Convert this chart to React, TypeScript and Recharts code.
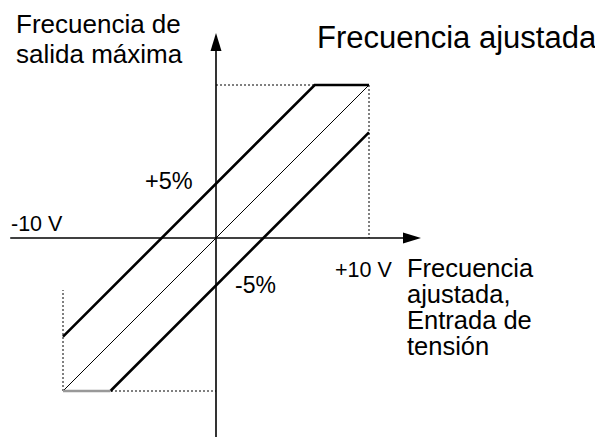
import React from "react";
import { ComposedChart, Line, XAxis, YAxis, ReferenceLine } from "recharts";

// Data (volts / percent of max frequency scaled to ±10)
const centerLine = [
  { x: -10, y: -10 },
  { x: 10, y: 10 },
];
const upperLine = [
  { x: -10, y: -6.45 },
  { x: 6.45, y: 10 },
  { x: 10, y: 10 },
];
const lowerSlope = [
  { x: -6.9, y: -10 },
  { x: 10, y: 6.9 },
];
const lowerFlat = [
  { x: -10, y: -10 },
  { x: -6.9, y: -10 },
];
const guideTop = [
  { x: 0, y: 10 },
  { x: 10, y: 10 },
];
const guideRight = [
  { x: 10, y: 10 },
  { x: 10, y: 0 },
];
const guideLeft = [
  { x: -10, y: -10 },
  { x: -10, y: -3.4 },
];
const guideBottom = [
  { x: -10, y: -10 },
  { x: 0, y: -10 },
];

const xDomain: [number, number] = [-13.5, 13.5];
const yDomain: [number, number] = [-13, 13.5];
const xAxisSegment = [
  { x: -13.45, y: 0 },
  { x: 13.4, y: 0 },
];
const yAxisSegment = [
  { x: 0, y: -13 },
  { x: 0, y: 13.4 },
];

const W = 595;
const H = 431;
const FONT = "'Liberation Sans', Arial, Helvetica, sans-serif";

const ArrowLine = (props: any) => {
  const { x1, y1, x2, y2 } = props;
  const dx = x2 - x1;
  const dy = y2 - y1;
  const len = Math.sqrt(dx * dx + dy * dy) || 1;
  const ux = dx / len;
  const uy = dy / len;
  const headL = 18;
  const headW = 5.5;
  const bx = x2 - ux * headL;
  const by = y2 - uy * headL;
  const px = -uy;
  const py = ux;
  return (
    <g>
      <line x1={x1} y1={y1} x2={bx} y2={by} stroke="#000" strokeWidth={1.6} />
      <polygon
        points={`${x2},${y2} ${bx + px * headW},${by + py * headW} ${bx - px * headW},${by - py * headW}`}
        fill="#000"
      />
    </g>
  );
};

const guideProps = {
  stroke: "#000",
  strokeWidth: 1,
  strokeDasharray: "2 2",
  dot: false,
  isAnimationActive: false,
  type: "linear" as const,
  dataKey: "y",
};

export default function App() {
  return (
    <div style={{ position: "relative", width: W, height: H }}>
      <ComposedChart
        width={W}
        height={H}
        margin={{ top: 23.45, left: 1.45, right: W - 1.45 - 413.1, bottom: H - 23.45 - 405.45 }}
      >
        <XAxis type="number" dataKey="x" domain={xDomain} allowDataOverflow hide />
        <YAxis type="number" dataKey="y" domain={yDomain} allowDataOverflow hide />
        <Line data={guideTop} {...guideProps} />
        <Line data={guideRight} {...guideProps} />
        <Line data={guideLeft} {...guideProps} />
        <Line data={guideBottom} {...guideProps} />
        <ReferenceLine
          segment={xAxisSegment}
          ifOverflow="visible"
          shape={ArrowLine}
        />
        <ReferenceLine
          segment={yAxisSegment}
          ifOverflow="visible"
          shape={ArrowLine}
        />
        <Line data={centerLine} dataKey="y" type="linear" stroke="#000" strokeWidth={1} dot={false} isAnimationActive={false} />
        <Line data={upperLine} dataKey="y" type="linear" stroke="#000" strokeWidth={2.6} dot={false} isAnimationActive={false} />
        <Line data={lowerSlope} dataKey="y" type="linear" stroke="#000" strokeWidth={2.6} dot={false} isAnimationActive={false} />
        <Line data={lowerFlat} dataKey="y" type="linear" stroke="#999" strokeWidth={2.6} dot={false} isAnimationActive={false} />
      </ComposedChart>
      <svg
        width={W}
        height={H}
        style={{ position: "absolute", left: 0, top: 0, pointerEvents: "none" }}
        fontFamily={FONT}
        fill="#000"
      >
        <text x={8} y={25} fontSize={26}>Frecuencia de</text>
        <text x={8} y={55} fontSize={26}>salida máxima</text>
        <text x={309} y={40} fontSize={31}>Frecuencia ajustada</text>
        <text x={3} y={223} fontSize={21.5}>-10 V</text>
        <text x={327} y={269} fontSize={21.5}>+10 V</text>
        <text x={399} y={269} fontSize={25.5}>Frecuencia</text>
        <text x={399} y={295} fontSize={25.5}>ajustada,</text>
        <text x={399} y={321} fontSize={25.5}>Entrada de</text>
        <text x={399} y={347} fontSize={25.5}>tensión</text>
        <text x={137} y={181} fontSize={23.5}>+5%</text>
        <text x={227} y={285} fontSize={23}>-5%</text>
      </svg>
    </div>
  );
}
